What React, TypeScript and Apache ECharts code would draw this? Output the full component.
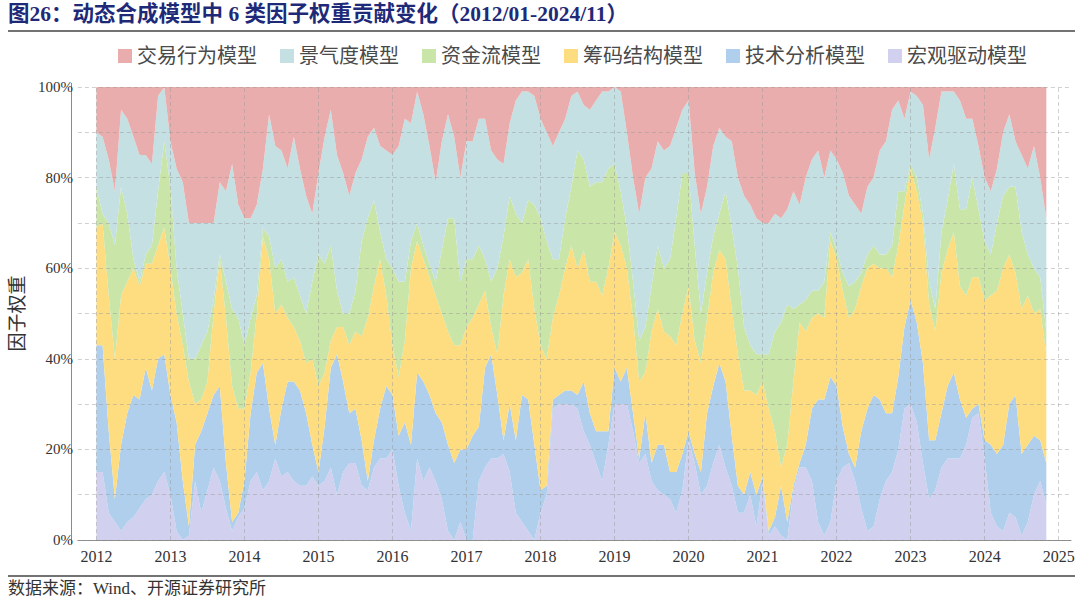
import React, { useEffect, useRef } from "react";
import * as echarts from "echarts";

// Monthly observations 2012/01 – 2024/11
const FIRST_MONTH = "2012-01";
const N_MONTHS = 155;
// axis padding (months) before the first and after the last observation
const PAD_BEFORE = 3;
const PAD_AFTER = 4;

const seriesNames = ["宏观驱动模型", "技术分析模型", "筹码结构模型", "资金流模型", "景气度模型", "交易行为模型"];
const legendOrder = ["交易行为模型", "景气度模型", "资金流模型", "筹码结构模型", "技术分析模型", "宏观驱动模型"];
const colors = ["#D1D0EE", "#AFCFEC", "#FEDD80", "#C9E5A7", "#C4E0E3", "#EAADAD"];

// weights (%), bottom to top of the stack
const macro = [
  15, 15, 6, 4, 2, 4, 5, 7, 9, 10,
  13, 15, 10, 2, 0, 1, 13, 6, 11, 16,
  13, 7, 2, 5, 7, 13, 15, 11, 13, 18,
  14, 15, 13, 12, 12, 14, 12, 13, 16, 10,
  15, 17, 17, 12, 11, 16, 18, 18, 20, 12,
  6, 2, 18, 13, 16, 13, 9, 2, 0, 4,
  0, 0, 13, 16, 18, 18, 19, 15, 6, 4,
  2, 0, 6, 10, 29, 30, 30, 30, 29, 24,
  21, 17, 13, 21, 30, 30, 30, 24, 17, 19,
  13, 11, 10, 9, 6, 11, 22, 17, 10, 12,
  17, 21, 16, 12, 6, 6, 10, 3, 13, 1,
  3, 1, 0, 11, 16, 16, 13, 4, 1, 4,
  13, 16, 17, 13, 7, 2, 3, 9, 13, 15,
  20, 29, 30, 26, 17, 9, 11, 16, 18, 18,
  18, 21, 27, 28, 18, 6, 3, 2, 6, 5,
  1, 4, 10, 13, 8,
];
const tech = [
  28, 28, 18, 5, 19, 24, 27, 24, 29, 23,
  27, 26, 22, 24, 13, 2, 8, 18, 17, 16,
  21, 10, 2, 1, 6, 15, 22, 28, 16, 3,
  15, 20, 22, 21, 16, 7, 3, 12, 22, 31,
  20, 11, 12, 10, 2, 6, 11, 16, 12, 11,
  20, 19, 19, 22, 16, 15, 17, 19, 17, 16,
  20, 23, 12, 22, 23, 14, 3, 15, 16, 28,
  29, 21, 5, 2, 2, 2, 3, 3, 3, 11,
  7, 7, 11, 3, 8, 5, 8, 4, 1, 9,
  4, 10, 11, 6, 9, 8, 2, 2, 5, 16,
  17, 18, 19, 11, 6, 4, 5, 7, 1, 1,
  2, 11, 4, 1, 1, 5, 16, 27, 30, 32,
  21, 9, 2, 3, 17, 27, 29, 22, 15, 13,
  16, 18, 23, 22, 22, 13, 11, 12, 16, 19,
  13, 6, 2, 2, 4, 15, 16, 19, 24, 27,
  18, 17, 13, 9, 9,
];
const chip = [
  26, 27, 30, 31, 33, 29, 28, 25, 23, 28,
  25, 28, 28, 24, 30, 32, 9, 7, 7, 18,
  28, 32, 30, 23, 16, 9, 13, 28, 33, 29,
  23, 14, 12, 11, 11, 19, 19, 12, 6, 6,
  12, 15, 17, 23, 36, 34, 33, 20, 11, 13,
  18, 39, 29, 27, 26, 26, 24, 25, 26, 23,
  27, 26, 27, 17, 6, 9, 32, 32, 36, 27,
  31, 30, 32, 28, 18, 22, 27, 32, 28, 29,
  29, 33, 30, 36, 30, 30, 22, 21, 17, 9,
  29, 30, 25, 30, 28, 31, 32, 25, 24, 21,
  25, 25, 27, 28, 29, 23, 18, 22, 21, 27,
  19, 4, 17, 23, 31, 25, 20, 19, 18, 30,
  28, 30, 30, 35, 32, 31, 29, 29, 32, 30,
  29, 27, 29, 29, 31, 30, 24, 31, 30, 31,
  25, 27, 29, 28, 31, 33, 36, 39, 33, 27,
  32, 33, 27, 29, 24,
];
const fund = [
  9, 2, 16, 25, 24, 15, 2, 1, 2, 4,
  12, 19, 18, 10, 7, 5, 10, 12, 11, 3,
  1, 8, 17, 20, 14, 12, 4, 2, 5, 10,
  10, 8, 11, 10, 11, 17, 29, 24, 21, 8,
  3, 7, 9, 21, 22, 19, 6, 8, 17, 21,
  13, 6, 4, 3, 3, 3, 14, 25, 28, 14,
  15, 13, 13, 7, 10, 19, 13, 14, 14, 11,
  13, 23, 28, 26, 13, 8, 11, 13, 26, 20,
  21, 22, 25, 22, 15, 12, 9, 8, 9, 10,
  10, 14, 14, 17, 28, 31, 25, 21, 11, 10,
  8, 8, 15, 18, 19, 14, 10, 9, 6, 12,
  22, 32, 31, 16, 4, 7, 6, 5, 8, 2,
  2, 4, 7, 6, 3, 3, 4, 3, 3, 7,
  12, 3, 1, 3, 2, 5, 5, 9, 11, 15,
  17, 19, 22, 15, 13, 9, 15, 16, 15, 19,
  17, 9, 10, 7, 5,
];
const boom = [
  12, 17, 14, 12, 17, 21, 27, 28, 22, 18,
  21, 12, 10, 22, 29, 30, 30, 27, 24, 17,
  16, 20, 32, 25, 28, 22, 20, 13, 27, 27,
  24, 25, 31, 28, 26, 15, 18, 28, 30, 30,
  31, 26, 26, 18, 18, 16, 19, 24, 25, 30,
  36, 26, 29, 29, 26, 22, 24, 23, 18, 23,
  26, 26, 28, 31, 29, 24, 16, 16, 25, 29,
  24, 24, 22, 24, 25, 28, 22, 20, 13, 12,
  17, 18, 20, 17, 17, 22, 21, 23, 28, 33,
  26, 23, 26, 25, 20, 14, 16, 16, 22, 19,
  20, 19, 12, 19, 20, 29, 31, 30, 29, 29,
  26, 23, 21, 26, 22, 27, 29, 31, 23, 18,
  20, 22, 20, 17, 13, 15, 15, 23, 25, 30,
  20, 16, 16, 18, 24, 27, 40, 31, 24, 16,
  24, 20, 13, 14, 14, 14, 12, 14, 16, 10,
  17, 19, 27, 22, 25,
];
const trade = [
  10, 11, 16, 23, 5, 7, 11, 15, 15, 17,
  2, 0, 12, 18, 21, 30, 30, 30, 30, 30,
  21, 23, 17, 26, 29, 29, 26, 18, 6, 13,
  14, 18, 11, 18, 24, 28, 19, 11, 5, 15,
  19, 24, 19, 16, 11, 9, 13, 14, 15, 13,
  7, 8, 1, 6, 13, 21, 12, 6, 11, 20,
  12, 12, 7, 7, 14, 16, 17, 8, 3, 1,
  1, 2, 7, 10, 13, 10, 7, 2, 1, 4,
  5, 3, 1, 1, 0, 1, 10, 20, 28, 20,
  18, 12, 14, 13, 9, 5, 3, 19, 28, 22,
  13, 9, 11, 12, 20, 24, 26, 29, 30, 30,
  28, 29, 27, 23, 26, 20, 16, 14, 20, 14,
  16, 19, 24, 26, 28, 22, 20, 14, 12, 5,
  3, 7, 1, 2, 4, 16, 9, 1, 1, 1,
  3, 7, 7, 13, 20, 23, 18, 10, 6, 12,
  15, 18, 13, 20, 29,
];
const allSeries = [macro, tech, chip, fund, boom, trade];

const yGridValues = [0, 10, 20, 30, 40, 50, 60, 70, 80, 90, 100];
const yearTicks = ["2012", "2013", "2014", "2015", "2016", "2017", "2018", "2019", "2020", "2021", "2022", "2023", "2024", "2025"];

const TITLE = "图26：动态合成模型中 6 类因子权重贡献变化（2012/01-2024/11）";
const SOURCE = "数据来源：Wind、开源证券研究所";

const SERIF = "'Liberation Serif', 'Noto Sans CJK SC', serif";

function monthLabel(y: number, m: number): string {
  return `${y}-${m < 10 ? "0" + m : m}`;
}
function shiftMonth(start: string, k: number): string {
  const [y, m] = start.split("-").map(Number);
  const t = y * 12 + (m - 1) + k;
  return monthLabel(Math.floor(t / 12), (t % 12) + 1);
}
// axis categories: padding months + observation months
const axisMonths: string[] = [];
for (let k = -PAD_BEFORE; k < N_MONTHS + PAD_AFTER; k++) axisMonths.push(shiftMonth(FIRST_MONTH, k));
const dataMonths: string[] = [];
for (let k = 0; k < N_MONTHS; k++) dataMonths.push(shiftMonth(FIRST_MONTH, k));

export default function App() {
  const ref = useRef<HTMLDivElement>(null);
  useEffect(() => {
    if (!ref.current) return;
    const chart = echarts.init(ref.current, undefined, { renderer: "svg" });
    const series: any[] = allSeries.map((arr, si) => ({
      name: seriesNames[si],
      type: "line",
      stack: "total",
      symbol: "none",
      showSymbol: false,
      lineStyle: { width: 0 },
      areaStyle: { color: colors[si], opacity: 1 },
      itemStyle: { color: colors[si] },
      data: arr.map((v, i) => [dataMonths[i], v]),
    }));
    series[series.length - 1].markLine = {
      silent: true,
      symbol: ["none", "none"],
      label: { show: false },
      lineStyle: { type: [4, 3], color: "rgba(150,150,150,0.45)", width: 1 },
      data: [
        ...yGridValues.map((v) => ({ yAxis: v })),
        ...yearTicks.map((y) => ({ xAxis: y + "-01" })),
      ],
    };
    chart.setOption({
      animation: false,
      backgroundColor: "#ffffff",
      title: {
        text: TITLE,
        left: 8,
        top: 3,
        padding: 0,
        textStyle: { fontSize: 21.5, fontWeight: "bold", color: "#1E2A78", fontFamily: SERIF },
      },
      legend: {
        data: legendOrder,
        left: 113,
        top: 41,
        icon: "rect",
        itemWidth: 14,
        itemHeight: 14,
        itemGap: 23,
        textStyle: { fontSize: 20, color: "#4a4a4a", fontFamily: SERIF },
      },
      grid: { left: 72, right: 9, top: 87, bottom: 63 },
      xAxis: {
        type: "category",
        data: axisMonths,
        boundaryGap: false,
        offset: 4,
        axisLine: { lineStyle: { color: "#8a8a8a", width: 1 } },
        axisTick: { show: false },
        splitLine: { show: false },
        axisLabel: {
          margin: 4,
          fontSize: 16,
          color: "#333",
          fontFamily: SERIF,
          interval: (_i: number, v: string) => v.endsWith("-01"),
          formatter: (v: string) => v.slice(0, 4),
        },
      },
      yAxis: {
        type: "value",
        min: 0,
        max: 100,
        interval: 10,
        axisLine: { show: false },
        axisTick: { show: false },
        splitLine: { show: false },
        axisLabel: {
          margin: 5,
          fontSize: 15,
          color: "#333",
          fontFamily: SERIF,
          formatter: (v: number) => (v % 20 === 0 ? v + "%" : ""),
        },
        name: "因子权重",
        nameLocation: "middle",
        nameRotate: 90,
        nameGap: 43,
        nameTextStyle: { fontSize: 19, color: "#333", fontFamily: SERIF },
      },
      graphic: [
        { type: "line", shape: { x1: 8, y1: 31, x2: 1075, y2: 31 }, style: { stroke: "#444", lineWidth: 1.5 } },
        { type: "line", shape: { x1: 71.5, y1: 83, x2: 71.5, y2: 544 }, style: { stroke: "#8a8a8a", lineWidth: 1 } },
        { type: "line", shape: { x1: 8, y1: 576, x2: 1075, y2: 576 }, style: { stroke: "#444", lineWidth: 1.5 } },
        {
          type: "text",
          left: 8,
          top: 580,
          style: { text: SOURCE, fontSize: 17, fill: "#333", fontFamily: SERIF },
        },
      ],
      series,
    });
    return () => chart.dispose();
  }, []);
  return <div ref={ref} style={{ position: "absolute", left: 0, top: 0, width: 1080, height: 603 }} />;
}
